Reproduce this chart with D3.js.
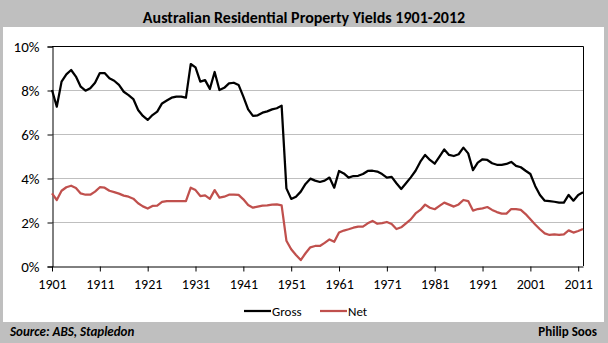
<!DOCTYPE html>
<html>
<head>
  <meta charset="utf-8">
  <script src="https://d3js.org/d3.v7.min.js"></script>
  <style>
    body { margin: 0; background: #fff; }
    text { font-family: Calibri, Carlito, Lato, sans-serif; }
  </style>
</head>
<body>
<script>
"use strict";

// years 1901..2012
var years = d3.range(1901, 2013);

var gross = [
  8.00, 7.24, 8.38, 8.71, 8.91, 8.61, 8.15, 7.97, 8.08, 8.33,
  8.77, 8.77, 8.53, 8.42, 8.23, 7.92, 7.77, 7.59, 7.09, 6.82,
  6.64, 6.86, 7.02, 7.39, 7.52, 7.65, 7.70, 7.70, 7.65, 9.18,
  9.03, 8.38, 8.45, 8.05, 8.82, 8.00, 8.10, 8.30, 8.33, 8.23,
  7.70, 7.12, 6.82, 6.85, 6.97, 7.03, 7.12, 7.17, 7.29, 3.53,
  3.05, 3.15, 3.38, 3.73, 3.97, 3.88, 3.82, 3.88, 4.02, 3.56,
  4.32, 4.21, 4.02, 4.09, 4.10, 4.18, 4.32, 4.33, 4.29, 4.18,
  4.02, 4.05, 3.76, 3.50, 3.76, 4.03, 4.33, 4.74, 5.05, 4.82,
  4.65, 4.97, 5.30, 5.05, 5.00, 5.08, 5.38, 5.12, 4.36, 4.70,
  4.85, 4.82, 4.67, 4.60, 4.60, 4.64, 4.73, 4.55, 4.49, 4.33,
  4.18, 3.64, 3.23, 2.97, 2.95, 2.92, 2.88, 2.88, 3.23, 2.97,
  3.23, 3.35
];

var net = [
  3.30, 3.00, 3.42, 3.58, 3.65, 3.55, 3.30, 3.24, 3.24, 3.38,
  3.58, 3.56, 3.42, 3.36, 3.29, 3.20, 3.15, 3.06, 2.85, 2.71,
  2.61, 2.73, 2.74, 2.91, 2.95, 2.95, 2.95, 2.95, 2.95, 3.56,
  3.45, 3.18, 3.21, 3.05, 3.45, 3.11, 3.15, 3.24, 3.24, 3.23,
  3.03, 2.77, 2.65, 2.70, 2.74, 2.76, 2.79, 2.80, 2.76, 1.15,
  0.76, 0.50, 0.27, 0.58, 0.85, 0.91, 0.91, 1.05, 1.21, 1.10,
  1.52, 1.61, 1.67, 1.74, 1.79, 1.79, 1.94, 2.05, 1.92, 1.95,
  2.00, 1.91, 1.68, 1.76, 1.94, 2.12, 2.39, 2.55, 2.79, 2.65,
  2.58, 2.73, 2.88, 2.79, 2.70, 2.80, 3.00, 2.95, 2.52, 2.59,
  2.62, 2.68, 2.55, 2.45, 2.38, 2.38, 2.59, 2.59, 2.55, 2.36,
  2.12, 1.89, 1.67, 1.48, 1.41, 1.44, 1.41, 1.44, 1.62, 1.52,
  1.59, 1.68
];

var yTicks = [0, 2, 4, 6, 8, 10];
var xTickYears = d3.range(1901, 2013, 10);

var seriesNames = ["Gross", "Net"];
var seriesColors = ["#000000", "#C0504D"];

var W = 608, H = 343;
var svg = d3.select("body").append("svg")
  .attr("width", W).attr("height", H);

// grey frame + white panel
svg.append("rect").attr("width", W).attr("height", H).attr("fill", "#BFBFBF");
svg.append("rect").attr("x", 3).attr("y", 27).attr("width", 601).attr("height", 295)
  .attr("fill", "#fff");

svg.append("text")
  .attr("x", 304).attr("y", 23)
  .attr("text-anchor", "middle")
  .style("font-size", "16px").style("font-weight", "bold")
  .text("Australian Residential Property Yields 1901-2012");

var pLeft = 52, pRight = 583, pTop = 46, pBottom = 266;

var x = d3.scaleLinear().domain([1901, 2012]).range([pLeft, pRight]);
var y = d3.scaleLinear().domain([0, 10]).range([pBottom, pTop]);

// gridlines
svg.append("g").selectAll("line")
  .data(yTicks.filter(function(d) { return d > 0 && d < 10; }))
  .join("line")
  .attr("x1", pLeft).attr("x2", pRight)
  .attr("y1", function(d) { return y(d) + 0.5; })
  .attr("y2", function(d) { return y(d) + 0.5; })
  .attr("stroke", "#BFBFBF").attr("stroke-width", 1);

// plot border (top, right)
svg.append("path")
  .attr("d", "M" + pLeft + "," + (pTop + 0.5) + "H" + (pRight + 0.5) + "V" + pBottom)
  .attr("fill", "none").attr("stroke", "#000").attr("stroke-width", 1);

// y axis
var yAxis = d3.axisLeft(y).tickValues(yTicks)
  .tickFormat(function(d) { return d + "%"; })
  .tickSize(5).tickPadding(8);
var gy = svg.append("g").attr("transform", "translate(" + (pLeft + 0.5) + ",0.5)").call(yAxis);
gy.select(".domain").attr("stroke", "#000");
gy.selectAll("line").attr("stroke", "#000");
gy.selectAll("text").style("font-size", "15px").attr("fill", "#000");

// x axis
var xAxis = d3.axisBottom(x).tickValues(xTickYears)
  .tickFormat(d3.format("d"))
  .tickSize(5).tickSizeOuter(0).tickPadding(8);
var gx = svg.append("g").attr("transform", "translate(0," + (pBottom + 0.5) + ")").call(xAxis);
gx.select(".domain").attr("stroke", "#000");
gx.selectAll("line").attr("stroke", "#000");
gx.selectAll("text").style("font-size", "14px").attr("fill", "#000");

var line = d3.line()
  .x(function(d, i) { return x(years[i]); })
  .y(function(d) { return y(d); });

[gross, net].forEach(function(s, k) {
  svg.append("path")
    .datum(s)
    .attr("d", line)
    .attr("fill", "none")
    .attr("stroke", seriesColors[k])
    .attr("stroke-width", 2.25)
    .attr("stroke-linejoin", "round");
});

// legend
var legendX = [244, 320];
seriesNames.forEach(function(name, k) {
  var g = svg.append("g").attr("transform", "translate(" + legendX[k] + ",311)");
  g.append("line").attr("x1", 0).attr("x2", 27)
    .attr("stroke", seriesColors[k]).attr("stroke-width", 2.25);
  g.append("text").attr("x", 28).attr("y", 5)
    .style("font-size", "13px").text(name);
});

// footer
svg.append("text")
  .attr("x", 10).attr("y", 336)
  .style("font-size", "13px").style("font-weight", "bold").style("font-style", "italic")
  .text("Source: ABS, Stapledon");
svg.append("text")
  .attr("x", 597).attr("y", 336)
  .attr("text-anchor", "end")
  .style("font-size", "13px").style("font-weight", "bold")
  .text("Philip Soos");
</script>
</body>
</html>
